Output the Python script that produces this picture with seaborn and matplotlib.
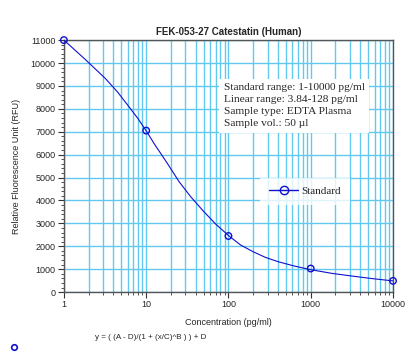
import matplotlib
matplotlib.use("Agg")
import matplotlib.pyplot as plt
from matplotlib.ticker import LogLocator, FixedLocator, MultipleLocator, NullFormatter
import numpy as np
import pandas as pd
import seaborn as sns

## --- standard points
std_conc = [1, 10, 100, 1000, 10000]
std_rfu = [11000, 7050, 2450, 1030, 490]

## --- fitted curve at several concentrations
curve_conc = [1, 1.8, 3.2, 4.5, 6.3, 8, 10, 12.5, 18, 25, 35, 50, 70, 100,
              140, 200, 280, 400, 630, 1000, 1800, 3200, 5600, 10000]
curve_rfu = [11000, 10170, 9320, 8730, 8050, 7560, 7040, 6480, 5630, 4830,
             4150, 3520, 2970, 2470, 2060, 1760, 1520, 1330, 1140, 980, 820,
             700, 590, 490]

x_ticks = [1, 10, 100, 1000, 10000]
x_ticklabels = ["1", "10", "100", "1000", "10000"]
y_ticks = list(range(0, 11001, 1000))

title = "FEK-053-27 Catestatin (Human)"
info_lines = ["Standard range: 1-10000 pg/ml",
              "Linear range: 3.84-128 pg/ml",
              "Sample type: EDTA Plasma",
              "Sample vol.: 50 \u00b5l"]
formula = "y = ( (A - D)/(1 + (x/C)^B ) ) + D"

std_df = pd.DataFrame({"conc": std_conc, "rfu": std_rfu})
curve_df = pd.DataFrame({"conc": curve_conc, "rfu": curve_rfu})

sns.set_theme(style="white")
plt.rcParams['font.family'] = ['Liberation Sans', 'DejaVu Sans']

grid_col = "#62c8ef"
blue = "#1010d0"

fig = plt.figure(figsize=(4.15, 3.58), dpi=100)
ax = fig.add_axes([0.154, 0.184, 0.793, 0.704])

ax.set_xscale("log")
ax.set_xlim(1, 10000)
ax.set_ylim(0, 11000)

## --- grid lines: log decades + minors vertical, every 1000 horizontal
ax.xaxis.set_major_locator(FixedLocator(x_ticks))
ax.xaxis.set_minor_locator(LogLocator(base=10, subs=np.arange(2, 10)))
ax.xaxis.set_minor_formatter(NullFormatter())
ax.set_xticklabels(x_ticklabels)
ax.yaxis.set_major_locator(FixedLocator(y_ticks))
ax.yaxis.set_minor_locator(MultipleLocator(200))
ax.grid(True, which="both", axis="x", color=grid_col, linewidth=1.0)
ax.grid(True, which="major", axis="y", color=grid_col, linewidth=1.0)
ax.set_axisbelow(True)

sns.lineplot(data=curve_df, x="conc", y="rfu", ax=ax, color=blue,
             linewidth=0.8, legend=False, zorder=3)
sns.scatterplot(data=std_df, x="conc", y="rfu", ax=ax, marker="o", s=22,
                facecolor="none", edgecolor=blue, linewidth=1.0,
                legend=False, zorder=4, clip_on=False)

for sp in ax.spines.values():
    sp.set_color("#555555")
    sp.set_linewidth(1.0)

ax.tick_params(axis="both", which="major", direction="out", length=4,
               width=0.8, color="#333333", labelsize=6.5, pad=2,
               left=True, bottom=True)
ax.tick_params(axis="both", which="minor", direction="out", length=2,
               width=0.6, color="#333333", left=True, bottom=True)

ax.set_title(title, fontsize=7, fontweight="bold", pad=4)
ax.set_xlabel("Concentration (pg/ml)", fontsize=6.5, labelpad=6)
ax.set_ylabel("Relative Fluorescence Unit (RFU)", fontsize=6.5, labelpad=7)

## --- info box (serif, like the original)
ax.text(0.485, 0.83, "\n".join(info_lines), transform=ax.transAxes,
        fontsize=8.2, family=["Liberation Serif", "DejaVu Serif"],
        va="top", ha="left", linespacing=1.45, zorder=5,
        bbox=dict(facecolor="white", edgecolor="none", pad=3))

## --- legend
h = ax.plot([], [], color=blue, marker="o", markerfacecolor="none",
            markeredgecolor=blue, markersize=6, linewidth=1.0)[0]
leg = ax.legend([h], ["Standard"], loc="center left",
                bbox_to_anchor=(0.58, 0.40), frameon=True,
                prop={"family": ["Liberation Serif"], "size": 8},
                handlelength=2.6, handletextpad=0.3, borderpad=0.8)
leg.get_frame().set_facecolor("white")
leg.get_frame().set_edgecolor("none")
leg.get_frame().set_boxstyle("square", pad=0)
leg.set_zorder(5)

fig.text(0.23, 0.057, formula, fontsize=5.8, ha="left", va="center")
fig.add_artist(plt.Line2D([0.034], [0.03], marker="o", markersize=4,
                          markerfacecolor="none", markeredgecolor=blue,
                          markeredgewidth=1.2, transform=fig.transFigure))

fig.savefig("out.png", dpi=100, facecolor="white")
